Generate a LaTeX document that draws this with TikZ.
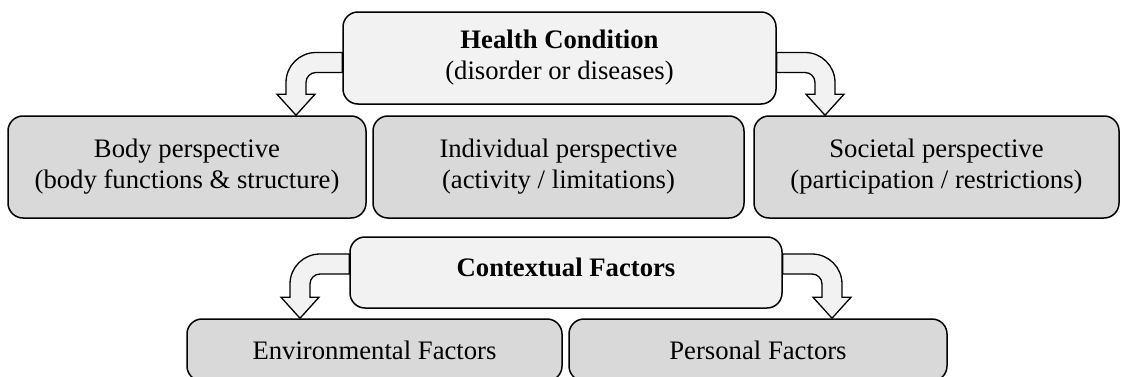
\documentclass[tikz,border=0pt]{standalone}
\usepackage{fontspec}
\setmainfont{Liberation Serif}
\usetikzlibrary{calc}

\definecolor{paleGray}{HTML}{F2F2F2}
\definecolor{boxGray}{HTML}{D9D9D9}

% bent block arrow: start on a box side, tip on a box top, side (-1 left, +1 right)
\newcommand{\bentArrow}[3]{%
  \draw [bentArrow] let \p1 = (#1), \p2 = (#2) in
    (\x1, {\y1+10pt}) -- ({\x2-(#3)*20pt}, {\y1+10pt})
    arc [start angle = 90, end angle = {90-(#3)*90}, radius = 30pt]
    -- ({\x2+(#3)*10pt}, {\y2+21pt}) -- ({\x2+(#3)*19pt}, {\y2+21pt})
    -- (\x2, \y2)
    -- ({\x2-(#3)*19pt}, {\y2+21pt}) -- ({\x2-(#3)*10pt}, {\y2+21pt})
    -- ({\x2-(#3)*10pt}, {\y1-20pt})
    arc [start angle = {90-(#3)*90}, end angle = 90, radius = 10pt]
    -- (\x1, {\y1-10pt}) -- cycle;}

\begin{document}
\begin{tikzpicture}
    [x = 1pt, y = 1pt,
     baseBox/.style = {draw, rounded corners = 15pt, line width = 1.5pt,
                       inner sep = 0pt, align = center,
                       font = \fontsize{26.7}{31}\selectfont},
     topBox/.style = {baseBox, fill = paleGray},
     viewBox/.style = {baseBox, fill = boxGray},
     bentArrow/.style = {draw, fill = paleGray, line width = 1.3pt,
                         line join = miter}]

    \useasboundingbox (0,0) rectangle (1122,376);

    \node at (559.5,318) [topBox, minimum width = 433pt, minimum height = 92pt]
      (health) {\textbf{Health Condition}\\(disorder or diseases)};

    \node at (187,  209) [viewBox, minimum width = 358pt, minimum height = 102pt]
      (body) {Body perspective\\(body functions \& structure)};
    \node at (558.5,209) [viewBox, minimum width = 371pt, minimum height = 102pt]
      (indiv) {Individual perspective\\(activity / limitations)};
    \node at (936.5,209) [viewBox, minimum width = 365pt, minimum height = 102pt]
      (society) {Societal perspective\\(participation / restrictions)};

    \node at (566,103.5) [topBox, minimum width = 432pt, minimum height = 71pt,
                          text depth = 10pt]
      (context) {\textbf{Contextual Factors}};

    \node at (374.5,26) [viewBox, minimum width = 375pt, minimum height = 62pt]
      (environ) {Environmental Factors};
    \node at (758,  26) [viewBox, minimum width = 378pt, minimum height = 62pt]
      (personal) {Personal Factors};

    \coordinate (healthL) at ($(health.west)+(0,-4.5)$);
    \coordinate (healthR) at ($(health.east)+(0,-4.5)$);
    \coordinate (contextL) at ($(context.west)+(0,8.5)$);
    \coordinate (contextR) at ($(context.east)+(0,8.5)$);
    \coordinate (bodyTip) at ($(body.north)+(109,0)$);
    \coordinate (societyTip) at ($(society.north)+(-111.5,0)$);
    \coordinate (environTip) at ($(environ.north)+(-74.5,0)$);
    \coordinate (personalTip) at ($(personal.north)+(74,0)$);

    \bentArrow{healthL}{bodyTip}{-1}
    \bentArrow{healthR}{societyTip}{1}
    \bentArrow{contextL}{environTip}{-1}
    \bentArrow{contextR}{personalTip}{1}
\end{tikzpicture}
\end{document}
